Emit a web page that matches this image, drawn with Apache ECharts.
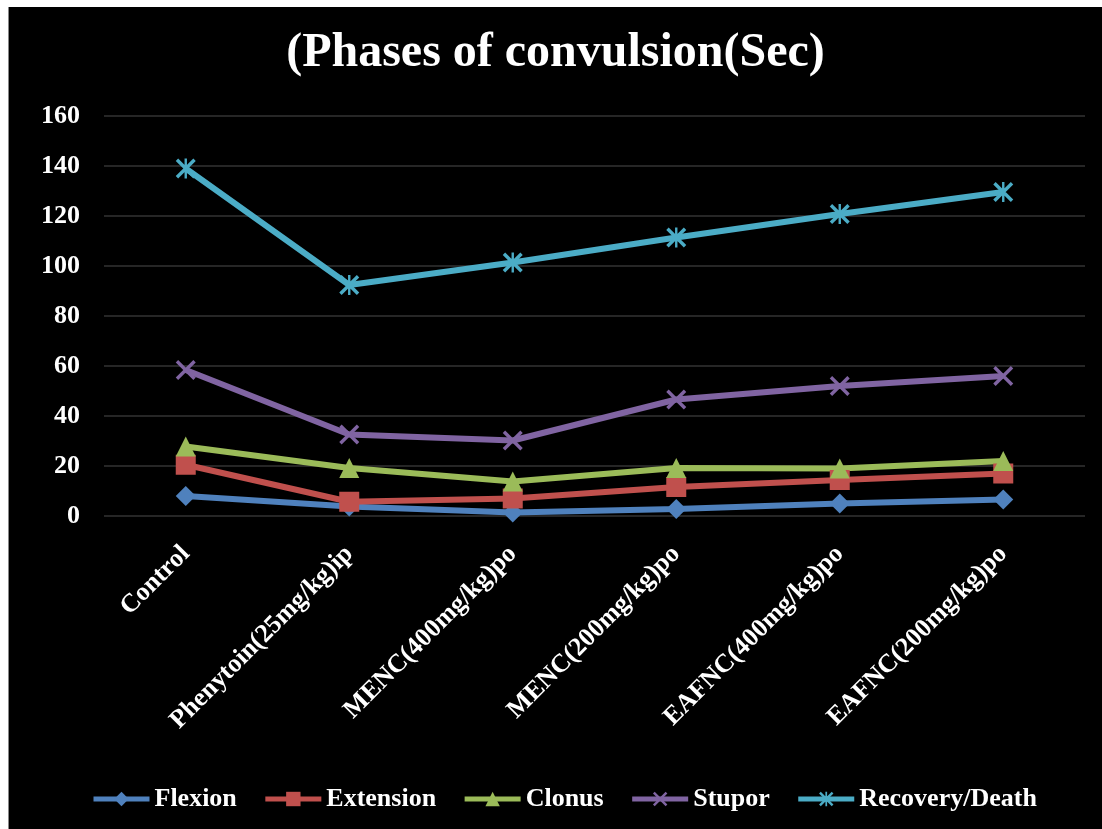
<!DOCTYPE html>
<html><head><meta charset="utf-8">
<script src="https://cdn.jsdelivr.net/npm/echarts@6/dist/echarts.min.js"></script>
<style>
html,body{margin:0;padding:0;background:#fff;width:1102px;height:829px;overflow:hidden}
#c{position:absolute;left:8px;top:7px;width:1094px;height:822px;border-left:1px solid #888;box-sizing:border-box}
</style></head>
<body><div id="c"></div>
<script>
const categories = ['Control','Phenytoin(25mg/kg)ip','MENC(400mg/kg)po','MENC(200mg/kg)po','EAFNC(400mg/kg)po','EAFNC(200mg/kg)po'];
const flexion = [8, 3.8, 1.4, 2.8, 5, 6.6];
const extension = [20.5, 5.7, 7, 11.6, 14.4, 17];
const clonus = [27.8, 19.2, 13.8, 19.2, 19, 22];
const stupor = [58.4, 32.6, 30.2, 46.6, 52, 56];
const recovery = [139, 92.4, 101.4, 111.4, 120.8, 129.6];
const yTicks = {min:0, max:160, interval:20};

const X = 'path://M0,1.2 L1.2,0 L10,8.8 L8.8,10 Z M8.8,0 L10,1.2 L1.2,10 L0,8.8 Z';
const AST = 'path://M0,1.2 L1.2,0 L10,8.8 L8.8,10 Z M8.8,0 L10,1.2 L1.2,10 L0,8.8 Z M4.4,0 L5.6,0 L5.6,10 L4.4,10 Z';
const font = '"Liberation Serif","Times New Roman",serif';
function s(name, data, color, symbol, size){
  return {name, type:'line', data, symbol, symbolSize:size, showSymbol:true,
    lineStyle:{width:6,color}, itemStyle:{color}, emphasis:{disabled:true}};
}
const chart = echarts.init(document.getElementById('c'));
chart.setOption({
  backgroundColor:'#000',
  animation:false,
  title:{text:'(Phases of convulsion(Sec)', left:'center', top:18,
    textStyle:{color:'#fff', fontFamily:font, fontWeight:'bold', fontSize:48}},
  grid:{left:95, right:17, top:109, bottom:313},
  legend:{bottom:12, left:77, itemWidth:56, itemHeight:18, itemGap:26,
    lineStyle:{width:5},
    textStyle:{color:'#fff', fontFamily:font, fontWeight:'bold', fontSize:26},
    data:['Flexion','Extension','Clonus','Stupor','Recovery/Death']},
  xAxis:{type:'category', data:categories, boundaryGap:true,
    axisLine:{show:false}, axisTick:{show:false},
    axisLabel:{color:'#fff', fontFamily:font, fontWeight:'bold', fontSize:26, rotate:45, margin:34, interval:0}},
  yAxis:{type:'value', min:yTicks.min, max:yTicks.max, interval:yTicks.interval,
    axisLine:{show:false}, axisTick:{show:false},
    splitLine:{lineStyle:{color:'#262626', width:2}},
    axisLabel:{color:'#fff', fontFamily:font, fontWeight:'bold', fontSize:26, margin:24}},
  series:[
    s('Flexion', flexion, '#4F81BD', 'diamond', 20),
    s('Extension', extension, '#C0504D', 'rect', 20),
    s('Clonus', clonus, '#9BBB59', 'triangle', 20),
    s('Stupor', stupor, '#8064A2', X, 20),
    s('Recovery/Death', recovery, '#4BACC6', AST, 20)
  ]
});
</script></body></html>
